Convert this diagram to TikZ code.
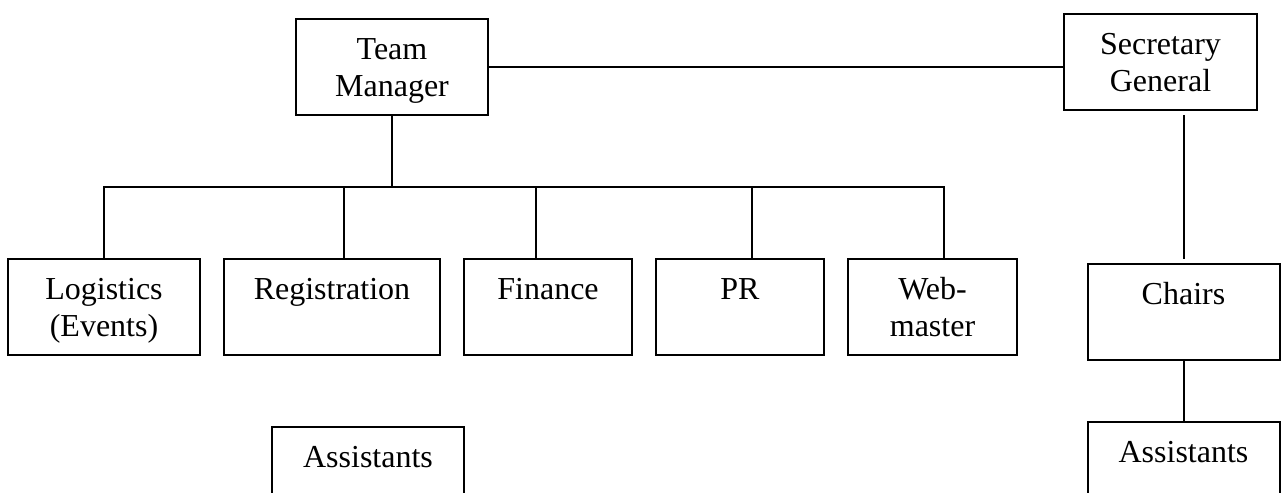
\documentclass[tikz,border=0pt]{standalone}
\usepackage{fontspec}
\setmainfont{Liberation Serif}
\usetikzlibrary{positioning}

\tikzset{
    unitbox/.style={
        rectangle, draw=black, line width=1pt, inner sep=0pt, outer sep=0pt, minimum height=48pt, font=\fontsize{16}{18.5}\selectfont,
        execute at begin node={\begin{minipage}[c][48pt][t]{80pt}\centering\vspace*{7.5pt}\strut},
        execute at end node={\end{minipage}}
    },
    link/.style={
        line width=1pt
    }
}

\begin{document}
\begin{tikzpicture}[x=0.5pt, y=-0.5pt]
    \useasboundingbox (0,0) rectangle (1281,493);

    % Top level
    \node[unitbox, minimum width=96pt] (manager) at (392,67) {Team\\Manager};
    \node[unitbox, minimum width=96.5pt] (secretary) at (1160.5,62) {Secretary\\General};

    % Teams under the manager
    \node[unitbox, minimum width=96pt] (logistics) at (104,307) {Logistics\\(Events)};
    \node[unitbox, minimum width=108pt, right=12pt of logistics] (registration) {Registration};
    \node[unitbox, minimum width=84pt, right=12pt of registration] (finance) {Finance};
    \node[unitbox, minimum width=84pt, right=12pt of finance] (pr) {PR};
    \node[unitbox, minimum width=84.5pt, right=12pt of pr] (webmaster) {Web-\\master};

    % Chairs side
    \node[unitbox, minimum width=96pt] (chairs) at (1183.5,312) {Chairs};
    \node[unitbox, minimum width=96pt, below=31pt of chairs] (assist2) {Assistants};
    \node[unitbox, minimum width=96pt] (assist1) at (368,475) {Assistants};

    % Relationships
    \coordinate (bus) at (392,187);
    \draw[link] (manager.east) -- (manager.east -| secretary.west);
    \draw[link] (manager) -- (bus);
    \foreach \unit/\shift in {logistics/0pt, registration/6pt, finance/-6pt, pr/6pt, webmaster/5.75pt}
        \draw[link] (bus) -| ([xshift=\shift]\unit.north);
    \draw[link, shorten <=2.5pt, shorten >=2.5pt] (secretary.south -| chairs.north) -- (chairs.north);
    \draw[link] (chairs) -- (assist2);

\end{tikzpicture}
\end{document}
